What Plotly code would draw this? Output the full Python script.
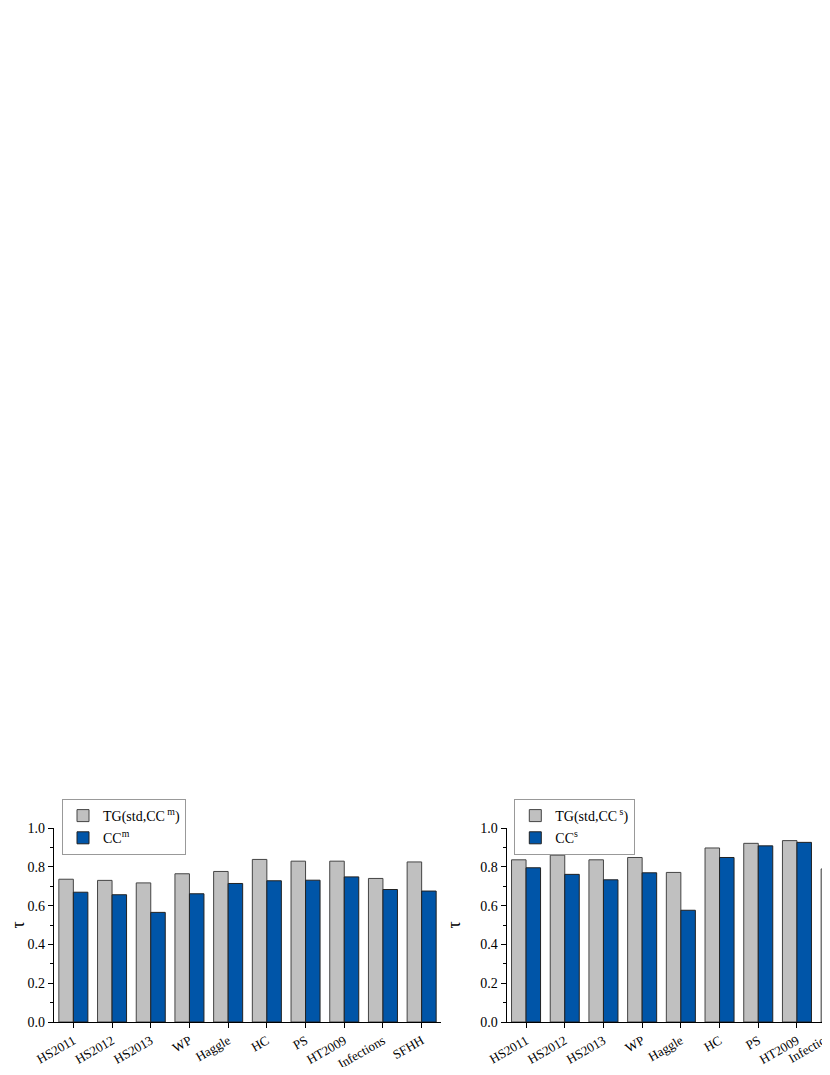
import plotly.graph_objects as go

datasets = ["HS2011", "HS2012", "HS2013", "WP", "Haggle", "HC", "PS", "HT2009", "Infections", "SFHH"]

# left panel (m)
tg_m = [0.736, 0.730, 0.717, 0.764, 0.776, 0.838, 0.829, 0.829, 0.740, 0.825]
cc_m = [0.669, 0.656, 0.565, 0.661, 0.714, 0.728, 0.731, 0.748, 0.683, 0.675]

# right panel (s) - last two are cut off in the picture, values guessed
tg_s = [0.836, 0.860, 0.836, 0.848, 0.771, 0.897, 0.921, 0.935, 0.789, 0.85]
cc_s = [0.795, 0.761, 0.733, 0.769, 0.576, 0.848, 0.908, 0.926, 0.74, 0.80]

gray = "#C0C0C0"
blue = "#0055A8"
font = "Liberation Serif"

# page body has an 8px margin, so work in figure coords = screen - 8
OFF = 8
W, H = 830 - OFF, 1075 - 2 * OFF
ml = 54 - OFF
mt = 827.5 - OFF
mb = H - (1022.3 - OFF)
plot_w = W - ml
plot_h = 1022.3 - 827.5
unit = 38.7  # px per category

left_dom = [0, 10 * unit / plot_w]
right_start = (506.7 - 54) / plot_w
right_dom = [right_start, 1.0]
right_end = -0.5 + (1.0 - right_start) * plot_w / unit

fig = go.Figure()

def add_pair(tg, cc, xa, ya, leg, sup):
    fig.add_trace(go.Bar(x=datasets, y=tg, name="TG(std,CC<sup> %s</sup>)" % sup,
                         marker=dict(color=gray, line=dict(color="#444", width=1)),
                         xaxis=xa, yaxis=ya, legend=leg, legendgroup=leg + "a"))
    fig.add_trace(go.Bar(x=datasets, y=cc, name="CC<sup>%s</sup>" % sup,
                         marker=dict(color=blue, line=dict(color="#222", width=1)),
                         xaxis=xa, yaxis=ya, legend=leg, legendgroup=leg + "b"))

add_pair(tg_m, cc_m, "x", "y", "legend", "m")
add_pair(tg_s, cc_s, "x2", "y2", "legend2", "s")

xcommon = dict(type="category", showline=True, linecolor="black", linewidth=1.3,
               ticks="outside", ticklen=5, tickcolor="black", tickangle=-30,
               tickfont=dict(family=font, size=13, color="black"), showgrid=False,
               automargin=False)
ycommon = dict(range=[0, 1.0], dtick=0.2, tickformat=".1f", showline=True,
               linecolor="black", linewidth=1.3, ticks="outside", ticklen=5,
               tickcolor="black", tickfont=dict(family=font, size=14, color="black"),
               minor=dict(dtick=0.1, ticks="outside", ticklen=3, tickcolor="black"),
               showgrid=False, zeroline=False, automargin=False,
               title=dict(text="τ", font=dict(family=font, size=18, color="black"), standoff=14))

# legend box in the reference spans y 802..851 (screen), centre it there
legcommon = dict(bgcolor="white", bordercolor="#999", borderwidth=1,
                 font=dict(family=font, size=14, color="black"),
                 xanchor="left", yanchor="middle",
                 y=(1022.3 - 826.5) / plot_h, tracegroupgap=1)

fig.update_layout(
    width=W, height=H,
    margin=dict(l=ml, r=0, t=mt, b=mb),
    paper_bgcolor="white", plot_bgcolor="white",
    barmode="group", bargap=0.25, bargroupgap=0,
    xaxis=dict(domain=left_dom, range=[-0.5, 9.5], anchor="y", **xcommon),
    yaxis=dict(anchor="x", **ycommon),
    xaxis2=dict(domain=right_dom, range=[-0.5, right_end], anchor="y2", **xcommon),
    yaxis2=dict(anchor="x2", **ycommon),
    legend=dict(x=(62 - 54) / plot_w, **legcommon),
    legend2=dict(x=(514.3 - 54) / plot_w, **legcommon),
)

# partial tick label of the clipped category on the right panel
cut_idx = datasets.index("Infections")
cut_x = right_dom[0] + (cut_idx + 0.5) * unit / plot_w
fig.add_annotation(x=cut_x, y=0, xref="paper", yref="paper", text=datasets[cut_idx],
                   showarrow=False, textangle=-30, xanchor="right", yanchor="top",
                   font=dict(family=font, size=13, color="black"), yshift=-2, xshift=5)

fig.write_html("out.html")
